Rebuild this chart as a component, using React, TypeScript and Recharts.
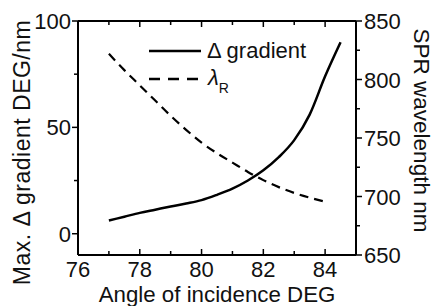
import { LineChart, Line, XAxis, YAxis, Legend, Label } from 'recharts';

const angles = [77, 77.5, 78, 78.5, 79, 79.5, 80, 80.5, 81, 81.5, 82, 82.5, 83, 83.5, 84, 84.5];
const gradient = [6.2, 8.0, 9.8, 11.3, 12.8, 14.2, 15.8, 18.3, 21.2, 25, 29.8, 36, 44, 56, 74, 90];
const wavelength = [822, 808, 795, 782, 769, 757, 746, 737, 729, 721, 714, 708, 703, 699, 695.5, null];

const xTicks = [76, 77, 78, 79, 80, 81, 82, 83, 84, 85];
const leftTicks = [0, 25, 50, 75, 100];
const rightTicks = [650, 675, 700, 725, 750, 775, 800, 825, 850];

const data = angles.map((a, i) => ({ angle: a, gradient: gradient[i], wavelength: wavelength[i] }));

const font = 'Liberation Sans, Arial, sans-serif';
const ink = '#111';

const BottomTick = (props: any) => {
  const { x, y, payload } = props;
  const major = payload.value % 2 === 0;
  return (
    <g>
      <line x1={x} x2={x} y1={y} y2={y - (major ? 6 : 4)} stroke="#000" strokeWidth={1.5} />
      {major && payload.value < 85 && (
        <text x={x} y={y + 22} textAnchor="middle" fontFamily={font} fontSize={22} fill={ink}>{payload.value}</text>
      )}
    </g>
  );
};

const TopTick = (props: any) => {
  const { x, y, payload } = props;
  const major = payload.value % 2 === 0;
  return <line x1={x} x2={x} y1={y} y2={y + (major ? 6 : 4)} stroke="#000" strokeWidth={1.5} />;
};

const LeftTick = (props: any) => {
  const { x, y, payload } = props;
  const major = payload.value % 50 === 0;
  return (
    <g>
      <line x1={x} x2={x - (major ? 6 : 4)} y1={y} y2={y} stroke="#000" strokeWidth={1.5} />
      {major && (
        <text x={x - 7} y={y + 8} textAnchor="end" fontFamily={font} fontSize={22} fill={ink}>{payload.value}</text>
      )}
    </g>
  );
};

const RightTick = (props: any) => {
  const { x, y, payload } = props;
  const major = payload.value % 50 === 0;
  return (
    <g>
      <line x1={x} x2={x + (major ? 6 : 4)} y1={y} y2={y} stroke="#000" strokeWidth={1.5} />
      {major && (
        <text x={x + 8} y={y + 8} textAnchor="start" fontFamily={font} fontSize={22} fill={ink}>{payload.value}</text>
      )}
    </g>
  );
};

const LegendBox = () => (
  <div style={{ fontFamily: font, fontSize: 22, lineHeight: '27px', color: ink }}>
    <div style={{ display: 'flex', alignItems: 'center' }}>
      <svg width={52} height={10}><line x1={0} x2={52} y1={5} y2={5} stroke="#000" strokeWidth={2.5} /></svg>
      <span style={{ marginLeft: 6 }}>Δ gradient</span>
    </div>
    <div style={{ display: 'flex', alignItems: 'center' }}>
      <svg width={52} height={10}><line x1={0} x2={52} y1={5} y2={5} stroke="#000" strokeWidth={2.5} strokeDasharray="11 8" /></svg>
      <span style={{ marginLeft: 7 }}>
        <i>λ</i>
        <span style={{ fontSize: 14, position: 'relative', top: 8 }}>R</span>
      </span>
    </div>
  </div>
);

export default function App() {
  return (
    <div style={{ position: 'absolute', left: 0, top: 0, background: '#fff' }}>
      <LineChart width={433} height={306} data={data} margin={{ top: 0, right: 0, bottom: 0, left: 0 }}>
        <XAxis
          xAxisId={0}
          dataKey="angle"
          type="number"
          domain={[76, 85]}
          ticks={xTicks}
          interval={0}
          height={51}
          tickSize={0}
          tickMargin={0}
          tick={<BottomTick />}
          axisLine={{ stroke: '#000', strokeWidth: 2 }}
          tickLine={false}
        >
          <Label
            content={(p: any) => (
              <text x={p.viewBox.x + p.viewBox.width / 2} y={p.viewBox.y + 46.5} textAnchor="middle" fontFamily={font} fontSize={22.3} fill={ink}>
                Angle of incidence DEG
              </text>
            )}
          />
        </XAxis>
        <XAxis
          xAxisId="top"
          orientation="top"
          dataKey="angle"
          type="number"
          domain={[76, 85]}
          ticks={xTicks}
          interval={0}
          height={21}
          tickSize={0}
          tickMargin={0}
          tick={<TopTick />}
          axisLine={{ stroke: '#000', strokeWidth: 2 }}
          tickLine={false}
        />
        <YAxis
          yAxisId="left"
          domain={[-10, 100]}
          ticks={leftTicks}
          interval={0}
          width={78}
          tickSize={0}
          tickMargin={0}
          tick={<LeftTick />}
          axisLine={{ stroke: '#000', strokeWidth: 2 }}
          tickLine={false}
        >
          <Label
            content={() => {
              const cx = 22;
              const cy = 152.5;
              return (
                <text x={cx} y={cy} transform={`rotate(-90 ${cx} ${cy})`} dy={8} textAnchor="middle" fontFamily={font} fontSize={23} letterSpacing={0.5} fill={ink}>
                  Max. Δ gradient DEG/nm
                </text>
              );
            }}
          />
        </YAxis>
        <YAxis
          yAxisId="right"
          orientation="right"
          domain={[650, 850]}
          ticks={rightTicks}
          interval={0}
          width={77}
          tickSize={0}
          tickMargin={0}
          tick={<RightTick />}
          axisLine={{ stroke: '#000', strokeWidth: 2 }}
          tickLine={false}
        >
          <Label
            content={(p: any) => {
              const cx = p.viewBox.x + 66;
              const cy = 130.5;
              return (
                <text x={cx} y={cy} transform={`rotate(90 ${cx} ${cy})`} dy={8} textAnchor="middle" fontFamily={font} fontSize={22.5} fill={ink}>
                  SPR wavelength nm
                </text>
              );
            }}
          />
        </YAxis>
        <Legend
          layout="horizontal"
          verticalAlign="middle"
          align="center"
          content={<LegendBox />}
          wrapperStyle={{ position: 'absolute', left: 149, top: 37, width: 'auto', height: 'auto' }}
        />
        <Line
          yAxisId="left"
          dataKey="gradient"
          type="monotone"
          stroke="#000"
          strokeWidth={2.5}
          dot={false}
          isAnimationActive={false}
        />
        <Line
          yAxisId="right"
          dataKey="wavelength"
          type="monotone"
          stroke="#000"
          strokeWidth={2.2}
          strokeDasharray="9 6"
          dot={false}
          isAnimationActive={false}
        />
      </LineChart>
    </div>
  );
}
